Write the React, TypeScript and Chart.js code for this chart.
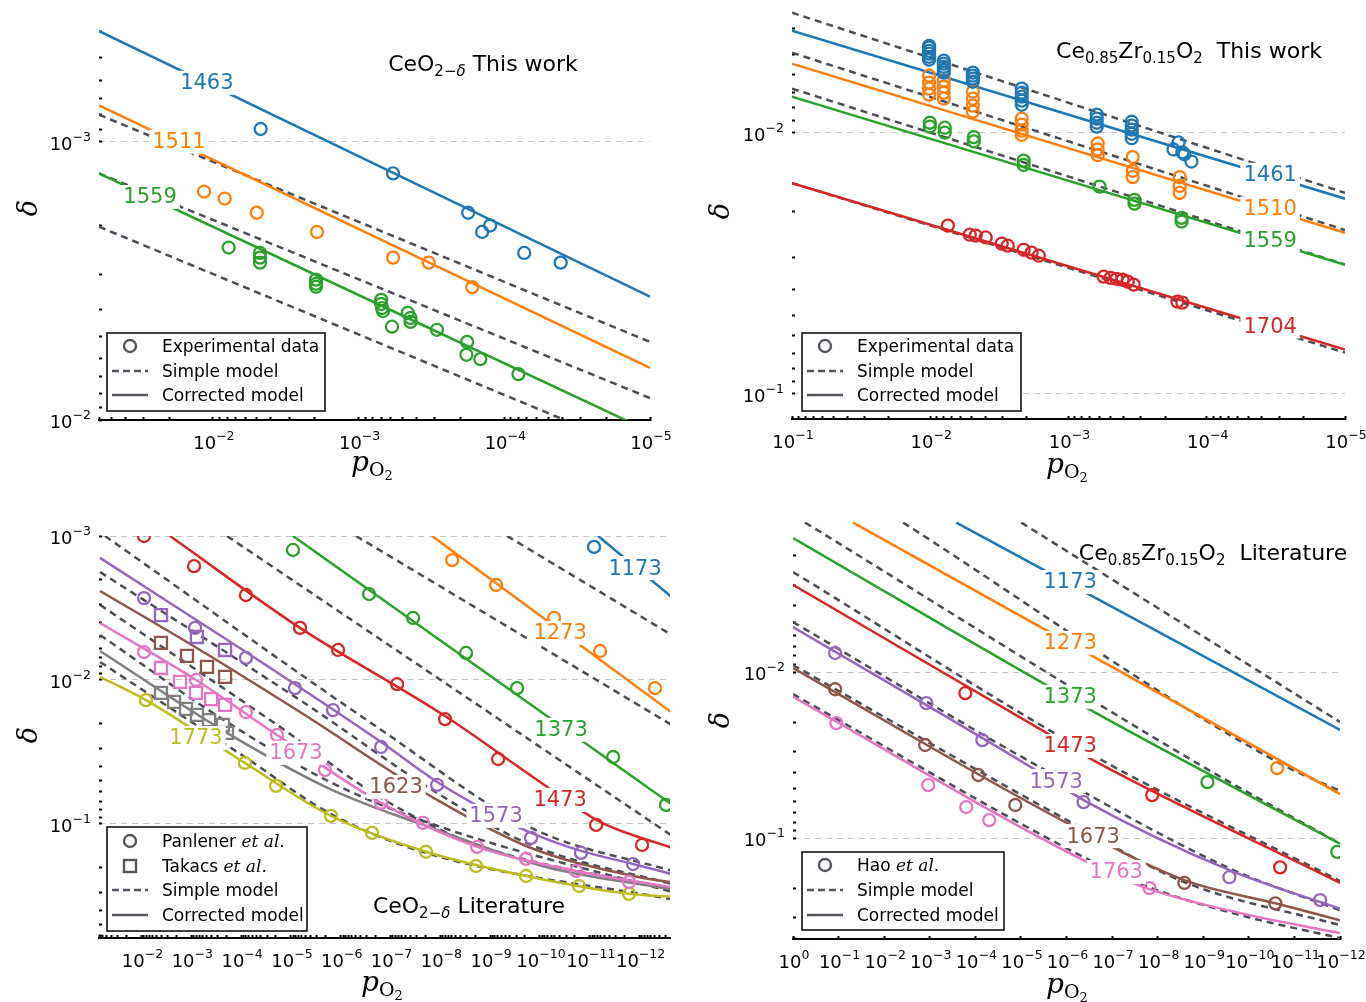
import React, { useEffect, useRef } from 'react';
import { Chart, registerables } from 'chart.js';

Chart.register(...registerables);

type Pt = [number, number];

// ======================= Panel 1 : CeO2-δ  This work =======================
const tl1463Points: Pt[] = [[4.7e-3, 9.0e-4], [5.8e-4, 1.3e-3], [1.77e-4, 1.8e-3], [1.42e-4, 2.11e-3], [1.25e-4, 2.0e-3], [7.3e-5, 2.51e-3], [4.1e-5, 2.72e-3]];
const tl1511Points: Pt[] = [[1.15e-2, 1.51e-3], [8.3e-3, 1.6e-3], [5.0e-3, 1.8e-3], [1.93e-3, 2.11e-3], [5.8e-4, 2.61e-3], [3.3e-4, 2.72e-3], [1.66e-4, 3.33e-3]];
const tl1559Points: Pt[] = [[7.8e-3, 2.4e-3], [4.75e-3, 2.51e-3], [4.75e-3, 2.61e-3], [4.75e-3, 2.72e-3], [1.96e-3, 3.13e-3], [1.96e-3, 3.24e-3], [1.96e-3, 3.32e-3], [7.0e-4, 3.7e-3], [7.0e-4, 3.83e-3], [6.9e-4, 3.96e-3], [6.8e-4, 4.06e-3], [4.6e-4, 4.12e-3], [4.4e-4, 4.3e-3], [4.4e-4, 4.44e-3], [5.9e-4, 4.62e-3], [2.9e-4, 4.74e-3], [1.8e-4, 5.24e-3], [1.82e-4, 5.83e-3], [1.46e-4, 6.04e-3], [8.0e-5, 6.84e-3]];
const tl1463Model: Pt[] = [[0.0605, 4.0e-4], [1e-5, 3.6e-3]];
const tl1511Model: Pt[] = [[0.0605, 7.4e-4], [1e-5, 6.5e-3]];
const tl1559Model: Pt[] = [[0.0605, 1.3e-3], [1e-5, 1.1e-2]];
const tlSimpleA: Pt[] = [[0.0605, 8.0e-4], [1e-5, 5.24e-3]];
const tlSimpleB: Pt[] = [[0.0605, 1.3e-3], [1e-5, 8.34e-3]];
const tlSimpleC: Pt[] = [[0.0605, 2.02e-3], [1e-5, 1.34e-2]];
const tlLabelAt: Pt[] = [[1.1e-2, 6.14e-4], [1.71e-2, 1.0e-3], [2.7e-2, 1.58e-3]];

// ======================= Panel 2 : Ce0.85Zr0.15O2  This work =======================
const tr1461Points: Pt[] = [
  [1.02e-2, 4.65e-3], [1.02e-2, 4.72e-3], [1.02e-2, 4.86e-3], [1.02e-2, 4.98e-3], [1.02e-2, 5.12e-3], [1.02e-2, 5.25e-3],
  [7.98e-3, 5.3e-3], [7.98e-3, 5.44e-3], [7.98e-3, 5.59e-3], [7.98e-3, 5.74e-3], [7.98e-3, 5.89e-3],
  [4.92e-3, 5.89e-3], [4.92e-3, 6.05e-3], [4.92e-3, 6.21e-3], [4.92e-3, 6.38e-3],
  [2.18e-3, 6.78e-3], [2.18e-3, 7.03e-3], [2.18e-3, 7.28e-3], [2.18e-3, 7.54e-3], [2.18e-3, 7.82e-3],
  [6.25e-4, 8.53e-3], [6.25e-4, 8.84e-3], [6.25e-4, 9.16e-3], [6.25e-4, 9.48e-3],
  [3.49e-4, 9.08e-3], [3.49e-4, 9.4e-3], [3.49e-4, 9.74e-3], [3.49e-4, 1.01e-2], [3.49e-4, 1.05e-2],
  [1.74e-4, 1.16e-2], [1.6e-4, 1.09e-2], [1.5e-4, 1.19e-2], [1.45e-4, 1.21e-2], [1.29e-4, 1.29e-2]];
const tr1510Points: Pt[] = [
  [1.02e-2, 6.05e-3], [1.02e-2, 6.43e-3], [1.02e-2, 6.78e-3], [1.02e-2, 7.15e-3],
  [7.98e-3, 6.32e-3], [7.98e-3, 6.67e-3], [7.98e-3, 7.03e-3], [7.98e-3, 7.41e-3],
  [4.92e-3, 6.97e-3], [4.92e-3, 7.41e-3], [4.92e-3, 7.88e-3], [4.92e-3, 8.31e-3],
  [2.18e-3, 8.84e-3], [2.18e-3, 9.31e-3], [2.18e-3, 9.82e-3], [2.18e-3, 1.02e-2],
  [6.15e-4, 1.1e-2], [6.15e-4, 1.16e-2], [6.15e-4, 1.22e-2],
  [3.43e-4, 1.24e-2], [3.43e-4, 1.4e-2], [3.43e-4, 1.48e-2],
  [1.57e-4, 1.48e-2], [1.57e-4, 1.6e-2], [1.57e-4, 1.7e-2]];
const tr1559Points: Pt[] = [[1.007e-2, 9.16e-3], [1.007e-2, 9.48e-3], [7.85e-3, 9.57e-3], [7.85e-3, 1.0e-2], [4.84e-3, 1.04e-2], [4.84e-3, 1.08e-2], [2.11e-3, 1.28e-2], [2.11e-3, 1.33e-2], [5.96e-4, 1.61e-2], [3.33e-4, 1.81e-2], [3.33e-4, 1.87e-2], [1.52e-4, 2.12e-2], [1.52e-4, 2.19e-2]];
const tr1704Points: Pt[] = [[7.46e-3, 2.27e-2], [5.18e-3, 2.46e-2], [4.69e-3, 2.48e-2], [3.97e-3, 2.52e-2], [3.04e-3, 2.66e-2], [2.75e-3, 2.71e-2], [2.11e-3, 2.81e-2], [1.85e-3, 2.88e-2], [1.64e-3, 2.96e-2], [5.57e-4, 3.56e-2], [4.96e-4, 3.6e-2], [4.49e-4, 3.63e-2], [4.06e-4, 3.66e-2], [3.73e-4, 3.72e-2], [3.38e-4, 3.82e-2], [1.63e-4, 4.44e-2], [1.5e-4, 4.48e-2]];
const tr1461Model: Pt[] = [[0.1, 4.07e-3], [1e-5, 1.79e-2]];
const tr1461Simple: Pt[] = [[0.1, 3.47e-3], [1e-5, 1.7e-2]];
const tr1510Model: Pt[] = [[0.1, 5.44e-3], [1e-5, 2.42e-2]];
const tr1510Simple: Pt[] = [[0.1, 4.94e-3], [1e-5, 2.36e-2]];
const tr1559Model: Pt[] = [[0.1, 7.28e-3], [1e-5, 3.21e-2]];
const tr1559Simple: Pt[] = [[0.1, 6.78e-3], [1e-5, 3.2e-2]];
const tr1704Model: Pt[] = [[0.1, 1.56e-2], [1e-5, 6.78e-2]];
const tr1704Simple: Pt[] = [[0.1, 1.56e-2], [1e-5, 6.96e-2]];
const trLabelAt: Pt[] = [[3.48e-5, 1.45e-2], [3.48e-5, 1.95e-2], [3.48e-5, 2.59e-2], [3.48e-5, 5.53e-2]];

// ======================= Panel 3 : CeO2-δ  Literature =======================
const bl1173Points: Pt[] = [[8.2e-12, 1.19e-3]];
const bl1173Model: Pt[] = [[6.8e-12, 1.0e-3], [1.94e-13, 2.78e-3]];
const bl1273Points: Pt[] = [[5.8e-9, 1.47e-3], [7.6e-10, 2.19e-3], [5.2e-11, 3.71e-3], [6.2e-12, 6.29e-3], [4.9e-13, 1.14e-2]];
const bl1273Model: Pt[] = [[1.47e-8, 1.0e-3], [1.94e-13, 1.75e-2]];
const bl1273Simple: Pt[] = [[4.58e-10, 1.0e-3], [1.94e-13, 5.03e-3]];
const bl1373Points: Pt[] = [[9.1e-6, 1.25e-3], [2.7e-7, 2.53e-3], [3.53e-8, 3.71e-3], [3.05e-9, 6.49e-3], [2.88e-10, 1.14e-2], [3.4e-12, 3.43e-2], [2.94e-13, 7.38e-2]];
const bl1373Model: Pt[] = [[9.1e-6, 1.0e-3], [1.94e-13, 7.6e-2]];
const bl1373Simple: Pt[] = [[4.93e-7, 1.0e-3], [1.94e-13, 2.12e-2]];
const bl1473Points: Pt[] = [[8.9e-3, 1.0e-3], [8.8e-4, 1.62e-3], [8.0e-5, 2.57e-3], [6.56e-6, 4.35e-3], [1.13e-6, 6.19e-3], [7.4e-8, 1.07e-2], [8.05e-9, 1.87e-2], [6.93e-10, 3.54e-2], [7.46e-12, 0.1016], [8.9e-13, 0.14]];
const bl1473Model: Pt[] = [[2.68e-3, 1.0e-3], [6.56e-6, 4.35e-3], [8.05e-9, 1.78e-2], [9.95e-11, 5.11e-2], [6.2e-12, 9.68e-2], [1.94e-13, 0.149]];
const bl1473Simple: Pt[] = [[1.92e-4, 1.0e-3], [1.94e-13, 0.125]];
const bl1573Points: Pt[] = [[8.9e-3, 2.7e-3], [8.4e-4, 4.35e-3], [8.0e-5, 7.03e-3], [8.3e-6, 1.14e-2], [1.43e-6, 1.62e-2], [1.55e-7, 2.92e-2], [1.16e-8, 5.36e-2], [1.51e-10, 0.125], [1.5e-11, 0.159], [1.35e-12, 0.19]];
const bl1573Squares: Pt[] = [[4.06e-3, 3.54e-3], [7.7e-4, 5.03e-3], [2.1e-4, 6.19e-3]];
const bl1573Model: Pt[] = [[6.8e-2, 1.42e-3], [8.0e-5, 6.4e-3], [1.55e-7, 2.7e-2], [1.16e-8, 5.11e-2], [6.32e-10, 9.08e-2], [1.51e-10, 0.1154], [1.5e-11, 0.154], [1.35e-12, 0.19], [1.94e-13, 0.226]];
const bl1573Simple: Pt[] = [[5.4e-2, 1.0e-3], [1.55e-7, 2.22e-2], [1.51e-10, 0.1067], [1.94e-13, 0.215]];
const bl1623Squares: Pt[] = [[4.06e-3, 5.53e-3], [1.22e-3, 6.81e-3], [4.84e-4, 8.12e-3], [2.1e-4, 9.53e-3]];
const bl1623Model: Pt[] = [[6.8e-2, 2.41e-3], [6.68e-4, 6.19e-3], [6.56e-6, 1.67e-2], [1.16e-8, 6.81e-2], [1.51e-10, 0.147], [1.35e-12, 0.23], [1.94e-13, 0.257]];
const bl1623Simple: Pt[] = [[6.8e-2, 1.78e-3], [6.56e-6, 1.38e-2], [1.16e-8, 6.1e-2], [1.51e-10, 0.14], [1.94e-13, 0.265]];
const bl1673Points: Pt[] = [[8.9e-3, 6.4e-3], [8.05e-4, 1.0e-2], [8.0e-5, 1.67e-2], [1.9e-5, 2.41e-2], [2.07e-6, 4.22e-2], [1.55e-7, 7.14e-2], [2.22e-8, 9.84e-2], [1.83e-9, 0.1445], [1.9e-10, 0.175], [1.88e-11, 0.212], [1.63e-12, 0.253]];
const bl1673Squares: Pt[] = [[4.06e-3, 8.26e-3], [1.69e-3, 1.03e-2], [8.05e-4, 1.23e-2], [4.0e-4, 1.36e-2], [2.1e-4, 1.49e-2]];
const bl1673Model: Pt[] = [[6.8e-2, 4.02e-3], [8.05e-4, 1.0e-2], [1.9e-5, 2.41e-2], [1.55e-7, 7.14e-2], [1.83e-9, 0.1445], [1.88e-11, 0.212], [1.94e-13, 0.278]];
const bl1673Simple: Pt[] = [[6.8e-2, 3.01e-3], [1.9e-5, 2.05e-2], [1.55e-7, 6.59e-2], [1.83e-9, 0.14], [1.94e-13, 0.287]];
const blGraySquares: Pt[] = [[4.06e-3, 1.23e-2], [2.22e-3, 1.42e-2], [1.28e-3, 1.59e-2], [7.7e-4, 1.75e-2], [4.4e-4, 1.9e-2], [2.31e-4, 2.05e-2], [1.92e-4, 2.33e-2]];
const blGrayModel: Pt[] = [[6.8e-2, 6.29e-3], [1.92e-4, 2.33e-2], [1.5e-6, 5.8e-2], [1.16e-8, 0.11], [7.55e-11, 0.199], [1.94e-13, 0.287]];
const blGraySimple: Pt[] = [[6.8e-2, 4.87e-3], [1.92e-4, 1.96e-2], [1.5e-6, 5.19e-2], [1.16e-8, 0.103], [1.94e-13, 0.301]];
const bl1773Points: Pt[] = [[8.13e-3, 1.38e-2], [8.4e-5, 3.77e-2], [1.99e-5, 5.44e-2], [1.57e-6, 8.79e-2], [2.35e-7, 0.1154], [1.94e-8, 0.156], [1.92e-9, 0.196], [1.9e-10, 0.23], [1.64e-11, 0.27], [1.63e-12, 0.306]];
const bl1773Model: Pt[] = [[6.8e-2, 9.53e-3], [8.13e-3, 1.38e-2], [8.4e-5, 3.77e-2], [1.57e-6, 8.79e-2], [1.94e-8, 0.156], [1.9e-10, 0.23], [1.63e-12, 0.306], [1.94e-13, 0.321]];
const bl1773Simple: Pt[] = [[6.8e-2, 7.5e-3], [8.4e-5, 3.43e-2], [1.57e-6, 8.53e-2], [1.94e-8, 0.159], [1.94e-13, 0.337]];
const blLabelAt: Pt[] = [[1.23e-12, 1.67e-3], [3.94e-11, 4.72e-3], [3.77e-11, 2.22e-2], [3.94e-11, 6.81e-2], [7.6e-10, 8.79e-2], [7.76e-8, 5.53e-2], [7.91e-6, 3.21e-2], [8.05e-4, 2.53e-2]];

// ======================= Panel 4 : Ce0.85Zr0.15O2  Literature =======================
const br1173Model: Pt[] = [[2.62e-4, 1.26e-3], [1e-12, 2.23e-2]];
const br1173Simple: Pt[] = [[9.85e-6, 1.26e-3], [1e-12, 2.0e-2]];
const br1273Points: Pt[] = [[2.39e-11, 3.79e-2]];
const br1273Model: Pt[] = [[4.8e-2, 1.26e-3], [1e-12, 5.43e-2]];
const br1273Simple: Pt[] = [[3.83e-3, 1.26e-3], [2.39e-11, 3.48e-2], [1e-12, 5.2e-2]];
const br1373Points: Pt[] = [[8.1e-10, 4.6e-2], [1.15e-12, 0.121]];
const br1373Model: Pt[] = [[1.0, 1.56e-3], [2.23e-7, 1.77e-2], [1e-12, 0.108]];
const br1373Simple: Pt[] = [[0.542, 1.26e-3], [1.17e-9, 3.63e-2], [1e-12, 0.108]];
const br1473Points: Pt[] = [[1.66e-4, 1.34e-2], [1.32e-8, 5.51e-2], [2.06e-11, 0.15]];
const br1473Model: Pt[] = [[1.0, 2.99e-3], [2.93e-6, 2.3e-2], [2.23e-7, 3.48e-2], [1e-12, 0.186]];
const br1473Simple: Pt[] = [[1.0, 2.5e-3], [2.23e-7, 3.25e-2], [1e-12, 0.181]];
const br1573Points: Pt[] = [[0.119, 7.69e-3], [1.19e-3, 1.54e-2], [7.03e-5, 2.57e-2], [4.22e-7, 6.07e-2], [2.67e-10, 0.172], [2.73e-12, 0.236]];
const br1573Model: Pt[] = [[1.0, 5.36e-3], [6.12e-6, 3.73e-2], [4.22e-7, 5.9e-2], [2.67e-10, 0.156], [1e-12, 0.266]];
const br1573Simple: Pt[] = [[1.0, 5.0e-3], [6.12e-6, 3.48e-2], [2.67e-10, 0.152], [1e-12, 0.272]];
const br1673Points: Pt[] = [[0.119, 1.27e-2], [1.26e-3, 2.75e-2], [8.6e-5, 4.17e-2], [1.33e-5, 6.32e-2], [2.6e-9, 0.186], [2.62e-11, 0.247]];
const br1673Model: Pt[] = [[1.0, 9.46e-3], [9.66e-7, 8.13e-2], [2.6e-9, 0.179], [2.62e-11, 0.247], [1e-12, 0.312]];
const br1673Simple: Pt[] = [[1.0, 9.08e-3], [9.66e-7, 7.8e-2], [2.6e-9, 0.184], [1e-12, 0.334]];
const br1763Points: Pt[] = [[0.112, 2.03e-2], [1.08e-3, 4.8e-2], [1.58e-4, 6.5e-2], [4.96e-5, 7.8e-2], [1.51e-8, 0.2]];
const br1763Model: Pt[] = [[1.0, 1.41e-2], [4.22e-7, 0.136], [1.75e-8, 0.2], [1.53e-10, 0.283], [1e-12, 0.373]];
const br1763Simple: Pt[] = [[1.0, 1.36e-2], [4.22e-7, 0.13], [1.75e-8, 0.195], [1.53e-10, 0.291], [1e-12, 0.4]];
const brLabelAt: Pt[] = [[8.3e-7, 2.87e-3], [8.3e-7, 6.68e-3], [8.3e-7, 1.41e-2], [8.3e-7, 2.79e-2], [1.68e-6, 4.54e-2], [2.6e-7, 9.73e-2], [8.1e-8, 0.16]];

// axis ranges
const tlX: Pt = [1e-5, 0.0605];
const tlY: Pt = [4e-4, 1e-2];
const trX: Pt = [1e-5, 0.1];
const trY: Pt = [3.3e-3, 0.125];
const blX: Pt = [2.45e-13, 0.0713];
const blY: Pt = [1e-3, 0.62];
const brX: Pt = [1e-12, 1];
const brY: Pt = [1.25e-3, 0.405];

// ============================ styling ============================
const W = 1366;
const H = 1002;
const C = {
  blue: '#1f77b4', orange: '#ff7f0e', green: '#2ca02c', red: '#d62728', purple: '#9467bd',
  brown: '#8c564b', pink: '#e377c2', gray: '#7f7f7f', olive: '#bcbd22',
};
const SIMPLE = '#4d4d57';
const LEG = '#55555f';
const SANS = '"DejaVu Sans", sans-serif';
const SERIF = '"DejaVu Serif", serif';

type Kind = 'solid' | 'dashed' | 'circle' | 'square';
interface Series { data: Pt[]; color: string; kind: Kind }
interface Seg { t: string; size: number; dy?: number; italic?: boolean; serif?: boolean }
interface LineLabel { text: string; at: Pt; color: string }
interface Panel {
  area: { l: number; t: number; r: number; b: number };
  xr: Pt; yr: Pt; xMinor: boolean;
  series: Series[]; labels: LineLabel[];
  title: Seg[]; titleAt: [number, number];
  legendBox: [number, number, number, number]; legendRows: number[]; legendX: number;
  legendItems: { kind: Kind; segs: Seg[] }[];
  yTitleAt: [number, number]; xTitleAt: [number, number];
}

const sub = (t: string, italic = false): Seg => ({ t, size: 15, dy: 5, italic });
const big = (t: string): Seg => ({ t, size: 22 });
const txt = (t: string): Seg => ({ t, size: 17 });
const etal: Seg = { t: 'et al.', size: 17, italic: true, serif: true };

const S = (data: Pt[], color: string, kind: Kind): Series => ({ data, color, kind });

const stdLegend = [
  { kind: 'circle' as Kind, segs: [txt('Experimental data')] },
  { kind: 'dashed' as Kind, segs: [txt('Simple model')] },
  { kind: 'solid' as Kind, segs: [txt('Corrected model')] },
];

const panels: Panel[] = [
  {
    area: { l: 99, t: 31, r: 650, b: 420 }, xr: tlX, yr: tlY, xMinor: true,
    series: [
      S(tl1463Points, C.blue, 'circle'), S(tl1511Points, C.orange, 'circle'), S(tl1559Points, C.green, 'circle'),
      S(tl1463Model, C.blue, 'solid'), S(tl1511Model, C.orange, 'solid'), S(tl1559Model, C.green, 'solid'),
      S(tlSimpleA, SIMPLE, 'dashed'), S(tlSimpleB, SIMPLE, 'dashed'), S(tlSimpleC, SIMPLE, 'dashed'),
    ],
    labels: [
      { text: '1463', at: tlLabelAt[0], color: C.blue },
      { text: '1511', at: tlLabelAt[1], color: C.orange },
      { text: '1559', at: tlLabelAt[2], color: C.green },
    ],
    title: [big('CeO'), sub('2−'), sub('δ', true), big(' This work')], titleAt: [483, 71],
    legendBox: [107, 333, 218, 78], legendRows: [346, 371, 395], legendX: 112, legendItems: stdLegend,
    yTitleAt: [30, 208], xTitleAt: [372, 471],
  },
  {
    area: { l: 792, t: 7, r: 1345, b: 419 }, xr: trX, yr: trY, xMinor: true,
    series: [
      S(tr1461Points, C.blue, 'circle'), S(tr1510Points, C.orange, 'circle'), S(tr1559Points, C.green, 'circle'), S(tr1704Points, C.red, 'circle'),
      S(tr1461Model, C.blue, 'solid'), S(tr1510Model, C.orange, 'solid'), S(tr1559Model, C.green, 'solid'), S(tr1704Model, C.red, 'solid'),
      S(tr1461Simple, SIMPLE, 'dashed'), S(tr1510Simple, SIMPLE, 'dashed'), S(tr1559Simple, SIMPLE, 'dashed'), S(tr1704Simple, SIMPLE, 'dashed'),
    ],
    labels: [
      { text: '1461', at: trLabelAt[0], color: C.blue },
      { text: '1510', at: trLabelAt[1], color: C.orange },
      { text: '1559', at: trLabelAt[2], color: C.green },
      { text: '1704', at: trLabelAt[3], color: C.red },
    ],
    title: [big('Ce'), sub('0.85'), big('Zr'), sub('0.15'), big('O'), sub('2'), big('  This work')], titleAt: [1189, 58],
    legendBox: [802, 333, 219, 78], legendRows: [346, 371, 395], legendX: 807, legendItems: stdLegend,
    yTitleAt: [722, 211], xTitleAt: [1067, 473],
  },
  {
    area: { l: 99, t: 536, r: 670, b: 938 }, xr: blX, yr: blY, xMinor: true,
    series: [
      S(bl1173Points, C.blue, 'circle'), S(bl1273Points, C.orange, 'circle'), S(bl1373Points, C.green, 'circle'),
      S(bl1473Points, C.red, 'circle'), S(bl1573Points, C.purple, 'circle'), S(bl1673Points, C.pink, 'circle'), S(bl1773Points, C.olive, 'circle'),
      S(bl1573Squares, C.purple, 'square'), S(bl1623Squares, C.brown, 'square'), S(bl1673Squares, C.pink, 'square'), S(blGraySquares, C.gray, 'square'),
      S(bl1173Model, C.blue, 'solid'), S(bl1273Model, C.orange, 'solid'), S(bl1373Model, C.green, 'solid'), S(bl1473Model, C.red, 'solid'),
      S(bl1573Model, C.purple, 'solid'), S(bl1623Model, C.brown, 'solid'), S(bl1673Model, C.pink, 'solid'), S(blGrayModel, C.gray, 'solid'), S(bl1773Model, C.olive, 'solid'),
      S(bl1273Simple, SIMPLE, 'dashed'), S(bl1373Simple, SIMPLE, 'dashed'), S(bl1473Simple, SIMPLE, 'dashed'), S(bl1573Simple, SIMPLE, 'dashed'),
      S(bl1623Simple, SIMPLE, 'dashed'), S(bl1673Simple, SIMPLE, 'dashed'), S(blGraySimple, SIMPLE, 'dashed'), S(bl1773Simple, SIMPLE, 'dashed'),
    ],
    labels: [
      { text: '1173', at: blLabelAt[0], color: C.blue },
      { text: '1273', at: blLabelAt[1], color: C.orange },
      { text: '1373', at: blLabelAt[2], color: C.green },
      { text: '1473', at: blLabelAt[3], color: C.red },
      { text: '1573', at: blLabelAt[4], color: C.purple },
      { text: '1623', at: blLabelAt[5], color: C.brown },
      { text: '1673', at: blLabelAt[6], color: C.pink },
      { text: '1773', at: blLabelAt[7], color: C.olive },
    ],
    title: [big('CeO'), sub('2−'), sub('δ', true), big(' Literature')], titleAt: [469, 913],
    legendBox: [107, 827, 200, 104], legendRows: [841, 866, 890, 915], legendX: 112,
    legendItems: [
      { kind: 'circle', segs: [txt('Panlener '), etal] },
      { kind: 'square', segs: [txt('Takacs '), etal] },
      { kind: 'dashed', segs: [txt('Simple model')] },
      { kind: 'solid', segs: [txt('Corrected model')] },
    ],
    yTitleAt: [30, 735], xTitleAt: [382, 991],
  },
  {
    area: { l: 793, t: 522, r: 1340, b: 939 }, xr: brX, yr: brY, xMinor: false,
    series: [
      S(br1273Points, C.orange, 'circle'), S(br1373Points, C.green, 'circle'), S(br1473Points, C.red, 'circle'),
      S(br1573Points, C.purple, 'circle'), S(br1673Points, C.brown, 'circle'), S(br1763Points, C.pink, 'circle'),
      S(br1173Model, C.blue, 'solid'), S(br1273Model, C.orange, 'solid'), S(br1373Model, C.green, 'solid'), S(br1473Model, C.red, 'solid'),
      S(br1573Model, C.purple, 'solid'), S(br1673Model, C.brown, 'solid'), S(br1763Model, C.pink, 'solid'),
      S(br1173Simple, SIMPLE, 'dashed'), S(br1273Simple, SIMPLE, 'dashed'), S(br1373Simple, SIMPLE, 'dashed'), S(br1473Simple, SIMPLE, 'dashed'),
      S(br1573Simple, SIMPLE, 'dashed'), S(br1673Simple, SIMPLE, 'dashed'), S(br1763Simple, SIMPLE, 'dashed'),
    ],
    labels: [
      { text: '1173', at: brLabelAt[0], color: C.blue },
      { text: '1273', at: brLabelAt[1], color: C.orange },
      { text: '1373', at: brLabelAt[2], color: C.green },
      { text: '1473', at: brLabelAt[3], color: C.red },
      { text: '1573', at: brLabelAt[4], color: C.purple },
      { text: '1673', at: brLabelAt[5], color: C.brown },
      { text: '1763', at: brLabelAt[6], color: C.pink },
    ],
    title: [big('Ce'), sub('0.85'), big('Zr'), sub('0.15'), big('O'), sub('2'), big('  Literature')], titleAt: [1213, 560],
    legendBox: [802, 852, 202, 78], legendRows: [865, 890, 915], legendX: 807,
    legendItems: [
      { kind: 'circle', segs: [txt('Hao '), etal] },
      { kind: 'dashed', segs: [txt('Simple model')] },
      { kind: 'solid', segs: [txt('Corrected model')] },
    ],
    yTitleAt: [722, 720], xTitleAt: [1067, 993],
  },
];

// ============================ helpers ============================
const isDecade = (v: number) => v > 0 && Math.abs(Math.log10(v) - Math.round(Math.log10(v))) < 1e-6;
const decadeSegs = (v: number): Seg[] => {
  const e = Math.round(Math.log10(v));
  const exp = e < 0 ? '−' + String(-e) : String(e);
  return [{ t: '10', size: 18 }, { t: exp, size: 12.5, dy: -9 }];
};

function logTicks(min: number, max: number, minor: boolean): number[] {
  const out: number[] = [];
  const e0 = Math.floor(Math.log10(min));
  const e1 = Math.ceil(Math.log10(max));
  for (let e = e0; e <= e1; e++) {
    const ms = minor ? [1, 2, 3, 4, 5, 6, 7, 8, 9] : [1];
    for (const m of ms) {
      const v = m * Math.pow(10, e);
      if (v >= min * (1 - 1e-9) && v <= max * (1 + 1e-9)) out.push(v);
    }
  }
  return out;
}

const segFont = (s: Seg) => `${s.italic ? 'italic ' : ''}${s.size}px ${s.serif ? SERIF : SANS}`;

function richWidth(ctx: CanvasRenderingContext2D, segs: Seg[]) {
  let total = 0;
  for (const s of segs) { ctx.font = segFont(s); total += ctx.measureText(s.t).width; }
  return total;
}

function drawRich(ctx: CanvasRenderingContext2D, segs: Seg[], x: number, y: number, align: 'left' | 'center' | 'right') {
  const total = richWidth(ctx, segs);
  let cx = align === 'center' ? x - total / 2 : align === 'right' ? x - total : x;
  ctx.textAlign = 'left';
  ctx.textBaseline = 'alphabetic';
  for (const s of segs) {
    ctx.font = segFont(s);
    ctx.fillText(s.t, cx, y + (s.dy || 0));
    cx += ctx.measureText(s.t).width;
  }
}

function toDataset(s: Series) {
  const data = s.data.map(([x, y]) => ({ x, y }));
  if (s.kind === 'circle' || s.kind === 'square') {
    return {
      data, showLine: false, order: 1, clip: 0,
      pointStyle: s.kind === 'circle' ? 'circle' : 'rect',
      pointRadius: s.kind === 'circle' ? 6 : 8.5, pointHoverRadius: 6,
      pointBorderWidth: 2.3, pointBorderColor: s.color, pointBackgroundColor: 'rgba(0,0,0,0)',
      borderColor: s.color, backgroundColor: 'rgba(0,0,0,0)',
    };
  }
  const dashed = s.kind === 'dashed';
  return {
    data, showLine: true, order: dashed ? 3 : 2, clip: 0,
    borderColor: s.color, borderWidth: 2.5, borderDash: dashed ? [7, 5] : [],
    pointRadius: 0, fill: false, cubicInterpolationMode: 'monotone',
  };
}

function decor(p: Panel, xTicks: number[], yTicks: number[]) {
  return {
    id: 'decor',
    afterDatasetsDraw(chart: any) {
      const ctx = chart.ctx as CanvasRenderingContext2D;
      const xs = chart.scales.x;
      const ys = chart.scales.y;
      ctx.save();
      // temperature labels with white backing
      for (const lb of p.labels) {
        ctx.font = `21px ${SANS}`;
        const x = xs.getPixelForValue(lb.at[0]);
        const y = ys.getPixelForValue(lb.at[1]);
        const w = ctx.measureText(lb.text).width;
        ctx.fillStyle = '#fff';
        ctx.fillRect(x - w / 2 - 3, y - 12, w + 6, 24);
        ctx.fillStyle = lb.color;
        ctx.textAlign = 'center';
        ctx.textBaseline = 'middle';
        ctx.fillText(lb.text, x, y + 1);
      }
      // legend
      const [bx, by, bw, bh] = p.legendBox;
      ctx.fillStyle = '#fff';
      ctx.fillRect(bx, by, bw, bh);
      ctx.strokeStyle = '#000';
      ctx.lineWidth = 1.5;
      ctx.setLineDash([]);
      ctx.strokeRect(bx, by, bw, bh);
      p.legendItems.forEach((it, i) => {
        const cy = p.legendRows[i];
        const sx = p.legendX;
        ctx.strokeStyle = LEG;
        ctx.lineWidth = 2.4;
        ctx.setLineDash([]);
        if (it.kind === 'circle') {
          ctx.beginPath(); ctx.arc(sx + 18, cy, 6, 0, Math.PI * 2); ctx.stroke();
        } else if (it.kind === 'square') {
          ctx.strokeRect(sx + 12, cy - 6, 12, 12);
        } else {
          if (it.kind === 'dashed') ctx.setLineDash([7, 4]);
          ctx.beginPath(); ctx.moveTo(sx, cy); ctx.lineTo(sx + 36, cy); ctx.stroke();
          ctx.setLineDash([]);
        }
        ctx.fillStyle = '#000';
        drawRich(ctx, it.segs, sx + 50, cy + 6, 'left');
      });
      ctx.fillStyle = '#000';
      // tick labels (decades) with real superscripts
      for (const v of xTicks) {
        if (!isDecade(v)) continue;
        drawRich(ctx, decadeSegs(v), xs.getPixelForValue(v) + 1, p.area.b + 29, 'center');
      }
      for (const v of yTicks) {
        if (!isDecade(v)) continue;
        drawRich(ctx, decadeSegs(v), p.area.l - 8, ys.getPixelForValue(v) + 8, 'right');
      }
      // panel title
      drawRich(ctx, p.title, p.titleAt[0], p.titleAt[1], 'center');
      // x title
      drawRich(ctx, [
        { t: 'p', size: 28, italic: true, serif: true },
        { t: 'O', size: 19, dy: 5, serif: true },
        { t: '2', size: 13, dy: 9, serif: true },
      ], p.xTitleAt[0], p.xTitleAt[1], 'center');
      // y title
      ctx.save();
      ctx.translate(p.yTitleAt[0], p.yTitleAt[1]);
      ctx.rotate(-Math.PI / 2);
      ctx.font = `italic 27px ${SERIF}`;
      ctx.textAlign = 'center';
      ctx.textBaseline = 'middle';
      ctx.fillText('δ', 0, 0);
      ctx.restore();
      ctx.restore();
    },
  };
}

function makeChart(canvas: HTMLCanvasElement, p: Panel) {
  const YW = 80;
  const XH = 50;
  const xTicks = logTicks(p.xr[0], p.xr[1], p.xMinor);
  const yTicks = logTicks(p.yr[0], p.yr[1], true);
  const tickFont = { family: SANS, size: 17 };
  return new Chart(canvas, {
    type: 'line',
    data: { datasets: p.series.map(toDataset) as any },
    options: {
      animation: false,
      responsive: false,
      devicePixelRatio: 1,
      events: [],
      layout: {
        autoPadding: false,
        padding: { left: p.area.l - YW, top: p.area.t, right: W - p.area.r, bottom: H - p.area.b - XH },
      },
      plugins: { legend: { display: false }, tooltip: { enabled: false }, title: { display: false } },
      scales: {
        x: {
          type: 'logarithmic', reverse: true, min: p.xr[0], max: p.xr[1], position: 'bottom',
          afterBuildTicks: (s: any) => { s.ticks = xTicks.map((v) => ({ value: v })); },
          afterFit: (s: any) => { s.height = XH; s.paddingLeft = 0; s.paddingRight = 0; s.paddingTop = 0; s.paddingBottom = 0; },
          ticks: { autoSkip: false, maxRotation: 0, minRotation: 0, padding: 12, color: '#000', font: tickFont, callback: () => '' },
          grid: { display: true, drawOnChartArea: false, drawTicks: true, tickLength: -3, tickColor: '#000', tickWidth: 2, tickBorderDash: [] },
          border: { display: true, color: '#000', width: 2 },
        },
        y: {
          type: 'logarithmic', reverse: true, min: p.yr[0], max: p.yr[1], position: 'left',
          afterBuildTicks: (s: any) => { s.ticks = yTicks.map((v) => ({ value: v })); },
          afterFit: (s: any) => { s.width = YW; s.paddingLeft = 0; s.paddingRight = 0; s.paddingTop = 0; s.paddingBottom = 0; },
          ticks: { autoSkip: false, padding: 9, color: '#000', font: tickFont, callback: () => '' },
          grid: {
            display: true, drawOnChartArea: true, drawTicks: true, tickLength: -3, tickColor: '#000', tickWidth: 2, tickBorderDash: [],
            lineWidth: 1,
            color: (c: any) => (c.tick && isDecade(c.tick.value) ? '#c4c4c4' : 'rgba(0,0,0,0)'),
          },
          border: { display: false, dash: [6, 5] },
        },
      },
    } as any,
    plugins: [decor(p, xTicks, yTicks)],
  });
}

export default function App() {
  const r0 = useRef<HTMLCanvasElement>(null);
  const r1 = useRef<HTMLCanvasElement>(null);
  const r2 = useRef<HTMLCanvasElement>(null);
  const r3 = useRef<HTMLCanvasElement>(null);
  const refs = [r0, r1, r2, r3];
  useEffect(() => {
    const charts = panels.map((p, i) => makeChart(refs[i].current as HTMLCanvasElement, p));
    return () => charts.forEach((c) => c.destroy());
  }, []);
  return (
    <div style={{ position: 'fixed', left: 0, top: 0, width: W, height: H, background: '#fff', overflow: 'hidden' }}>
      {refs.map((r, i) => (
        <canvas key={i} ref={r} width={W} height={H} style={{ position: 'absolute', left: 0, top: 0 }} />
      ))}
    </div>
  );
}
